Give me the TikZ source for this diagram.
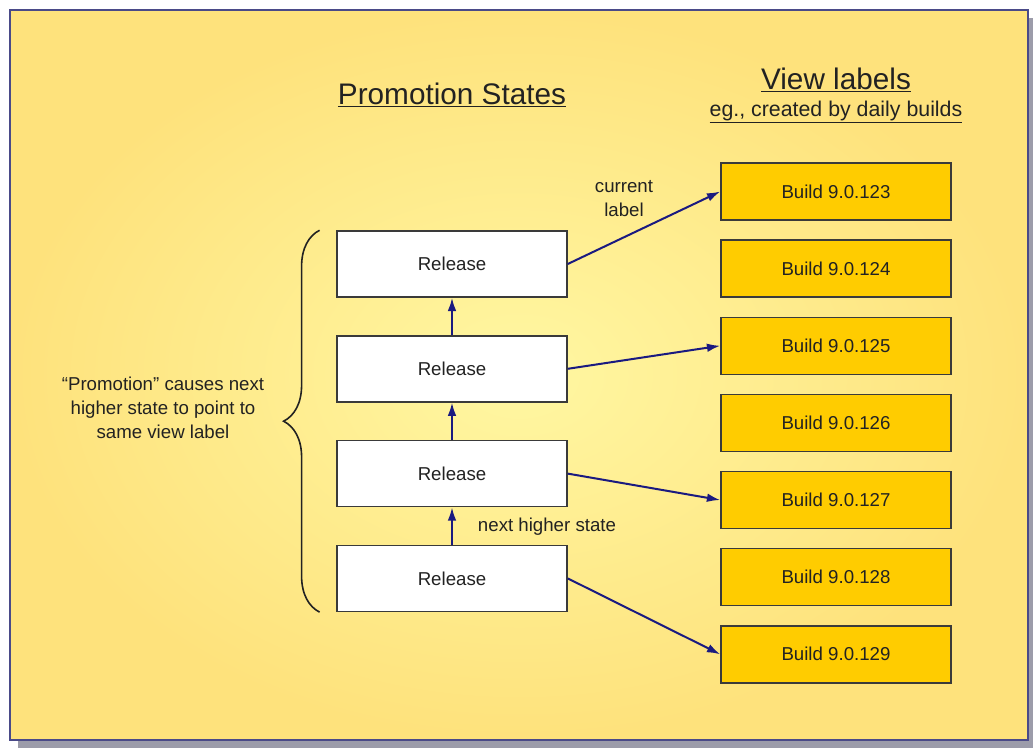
\documentclass[tikz,border=0pt]{standalone}
\usepackage{fontspec}
\setmainfont{Liberation Sans}
\usetikzlibrary{positioning, arrows.meta, decorations.pathreplacing}
\definecolor{panelin}{HTML}{FFF7A2}
\definecolor{panelout}{HTML}{FEE27C}
\definecolor{panelrim}{HTML}{4A4A88}
\definecolor{shadowgray}{HTML}{9C9CAA}
\definecolor{boxrim}{HTML}{3A3A3A}
\definecolor{buildgold}{HTML}{FFCC00}
\definecolor{navy}{HTML}{1A1A80}
\definecolor{ink}{HTML}{222222}
\tikzset{
    >={Latex[length=10pt, width=6.5pt]}, % filled arrow heads
    txt/.style={text=ink, font=\fontsize{14}{18}\selectfont}, % small text
    headline/.style={text=ink, font=\fontsize{22.3}{26}\selectfont}, % titles
    release/.style={txt, draw=boxrim, line width=1.1pt, fill=white, minimum width=172.5pt, minimum height=49.5pt}, % promotion state box
    build/.style={txt, draw=boxrim, line width=1.1pt, fill=buildgold, minimum width=172.5pt, minimum height=42.75pt}, % view label box
    link/.style={->, draw=navy, line width=1.5pt}, % pointer arrows
}
\begin{document}
\begin{tikzpicture}[x=0.75pt, y=-0.75pt]
    \useasboundingbox (0,0) rectangle (1033,750);
    % panel with shadow
    \fill[shadowgray] (18,18) rectangle (1033,748);
    \draw[panelrim, line width=1.5pt, inner color=panelin, outer color=panelout] (10,10) rectangle (1028,740);

    % titles
    \node[headline] (ptitle) at (452,95) {\underline{Promotion States}};
    \node[headline] (vtitle) at (836,80) {\underline{View labels}};
    \node[text=ink, font=\fontsize{16}{19}\selectfont] (vsub) at (836,112) {\underline{eg., created by daily builds}};

    % promotion states
    \node[release] (r1) at (452,264) {Release};
    \node[release, below=28pt of r1] (r2) {Release};
    \node[release, below=28pt of r2] (r3) {Release};
    \node[release, below=28pt of r3] (r4) {Release};

    % view labels
    \node[build] (b1) at (836,191.5) {Build 9.0.123};
    \node[build, below=14pt of b1] (b2) {Build 9.0.124};
    \node[build, below=14pt of b2] (b3) {Build 9.0.125};
    \node[build, below=14pt of b3] (b4) {Build 9.0.126};
    \node[build, below=14pt of b4] (b5) {Build 9.0.127};
    \node[build, below=14pt of b5] (b6) {Build 9.0.128};
    \node[build, below=14pt of b6] (b7) {Build 9.0.129};

    % arrows
    \draw[link] (r4.north) -- (r3.south);
    \draw[link] (r3.north) -- (r2.south);
    \draw[link] (r2.north) -- (r1.south);
    \draw[link] (r1.east) -- (b1.west);
    \draw[link] (r2.east) -- (b3.west);
    \draw[link] (r3.east) -- (b5.west);
    \draw[link] (r4.east) -- (b7.west);

    \node[txt, align=center] (cur) at (624,199) {current\\label};
    \node[txt] (next) at (547,527) {next higher state};

    % brace and note
    \coordinate[left=12.5pt of r4.south west] (bbot);
    \coordinate[left=12.5pt of r1.north west] (btop);
    \draw[ink, line width=1.2pt, decorate, decoration={brace, amplitude=27pt}] (bbot) -- (btop);
    \node[txt, align=center] (note) at (163,408) {\textquotedblleft Promotion\textquotedblright{} causes next\\higher state to point to\\same view label};
\end{tikzpicture}
\end{document}
